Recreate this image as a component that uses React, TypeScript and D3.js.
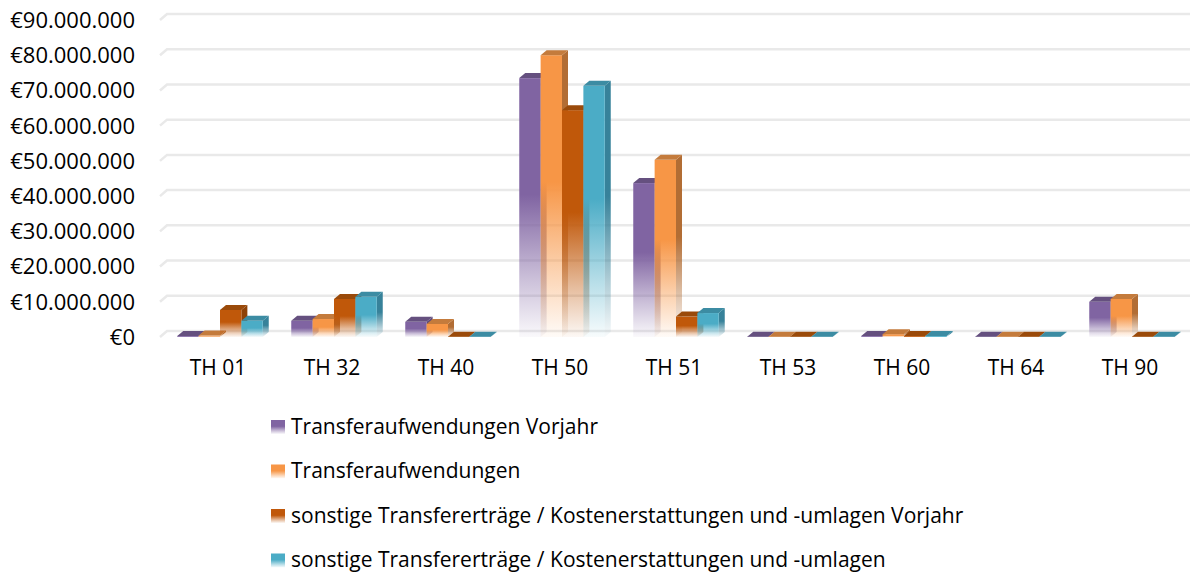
import React from 'react';
import * as d3 from 'd3';

const categories = ['TH 01', 'TH 32', 'TH 40', 'TH 50', 'TH 51', 'TH 53', 'TH 60', 'TH 64', 'TH 90'];

const seriesNames = [
  'Transferaufwendungen Vorjahr',
  'Transferaufwendungen',
  'sonstige Transfererträge / Kostenerstattungen und -umlagen Vorjahr',
  'sonstige Transfererträge / Kostenerstattungen und -umlagen',
];

// values in euro
const aufwVorjahr = [300000, 4600000, 4300000, 73500000, 43700000, 100000, 300000, 100000, 10000000];
const aufw = [400000, 5100000, 3700000, 80000000, 50300000, 100000, 800000, 100000, 10800000];
const ertraegeVorjahr = [7700000, 10800000, 100000, 64400000, 5800000, 100000, 300000, 100000, 100000];
const ertraege = [4600000, 11400000, 100000, 71300000, 6800000, 100000, 300000, 100000, 100000];

const seriesValues = [aufwVorjahr, aufw, ertraegeVorjahr, ertraege];

const yTicks = [0, 10e6, 20e6, 30e6, 40e6, 50e6, 60e6, 70e6, 80e6, 90e6];

const fronts = ['#8064a2', '#f79646', '#c0580a', '#4bacc6'];
const sides = ['#5e4a7a', '#b26d34', '#8e4208', '#37829a'];
const tops = ['#65507f', '#c47b3c', '#9a4a0a', '#3c8ca3'];

const W = 1190;
const H = 575;
const DX = 6;
const DY = 5;
const FONT = '"Open Sans", sans-serif';

const fmt = d3.formatLocale({ decimal: ',', thousands: '.', grouping: [3], currency: ['€', ''] }).format('$,.0f');

export default function App() {
  const y = d3.scaleLinear().domain([0, 90e6]).range([337, 20]);
  const x = d3.scaleBand<string>().domain(categories).range([163, 1189]).paddingInner(0.25).paddingOuter(0.125);
  const xs = d3.scaleBand<number>().domain(d3.range(seriesNames.length)).range([0, x.bandwidth()]);
  const bw = xs.bandwidth();

  const fade = (id: string, c: string) => (
    <linearGradient id={id} x1="0" y1="0" x2="0" y2="1">
      <stop offset="0" stopColor={c} stopOpacity={1} />
      <stop offset="0.45" stopColor={c} stopOpacity={1} />
      <stop offset="0.78" stopColor={c} stopOpacity={0.4} />
      <stop offset="1" stopColor={c} stopOpacity={0.04} />
    </linearGradient>
  );

  return (
    <svg width={W} height={H} style={{ position: 'absolute', left: 0, top: 0, background: '#fff' }}>
      <defs>
        {fronts.map((c, i) => fade('front' + i, c))}
        {sides.map((c, i) => fade('side' + i, c))}
      </defs>

      {/* back wall gridlines */}
      <g stroke="#e9e9e9" strokeWidth={2.5} fill="none">
        {yTicks.map(t => (
          <path key={t} d={`M160,${y(t)} L${160 + DX + 1},${y(t) - DY - 1} L${W},${y(t) - DY - 1}`} />
        ))}
      </g>

      <g fontFamily={FONT} fontSize={22} fill="#000" textAnchor="end">
        {yTicks.map(t => (
          <text key={t} x={135} y={y(t) + 2} dominantBaseline="middle">{fmt(t)}</text>
        ))}
      </g>

      {categories.map((cat, ci) => (
        <g key={cat}>
          {seriesValues.map((vals, si) => {
            const x0 = (x(cat) ?? 0) + (xs(si) ?? 0);
            const x1 = x0 + bw;
            const yt = y(vals[ci]);
            const yb = y(0);
            const h = Math.max(yb - yt, 0.01);
            return (
              <g key={si}>
                <path
                  d={`M${x1},${yb} L${x1},${yt} L${x1 + DX},${yt - DY} L${x1 + DX},${yb - DY} Z`}
                  fill={`url(#side${si})`}
                />
                <rect x={x0} y={yt} width={bw} height={h} fill={`url(#front${si})`} />
                <path
                  d={`M${x0},${yt} L${x0 + DX},${yt - DY} L${x1 + DX},${yt - DY} L${x1},${yt} Z`}
                  fill={tops[si]}
                />
              </g>
            );
          })}
          <text x={(x(cat) ?? 0) + x.bandwidth() / 2 - 2} y={369} textAnchor="middle" dominantBaseline="middle"
            fontFamily={FONT} fontSize={21}>{cat}</text>
        </g>
      ))}

      <g fontFamily={FONT} fontSize={21}>
        {seriesNames.map((n, i) => (
          <g key={n} transform={`translate(271,${427 + i * 44.5})`}>
            <rect x={0} y={-7} width={14} height={14} fill={`url(#front${i})`} />
            <text x={20} y={1} dominantBaseline="middle">{n}</text>
          </g>
        ))}
      </g>
    </svg>
  );
}
